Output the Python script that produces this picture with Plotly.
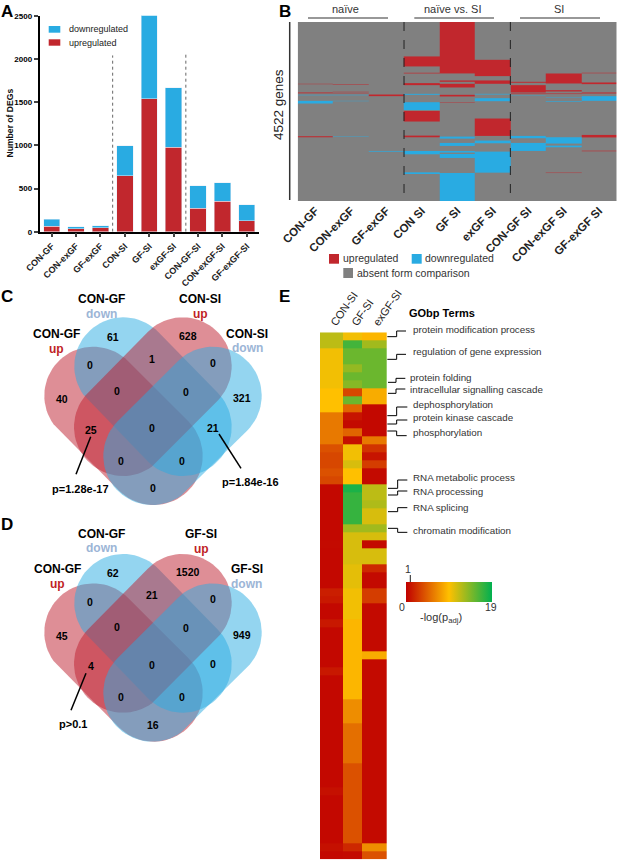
import numpy as np
import plotly.graph_objects as go

W = 617
H = 860
FONT = 'Liberation Sans'

# panel A
deg_labels = ['CON-GF', 'CON-exGF', 'GF-exGF', 'CON-SI', 'GF-SI', 'exGF-SI', 'CON-GF-SI', 'CON-exGF-SI', 'GF-exGF-SI']
deg_up = [65, 35, 45, 650, 1540, 975, 270, 350, 125]
deg_down = [80, 25, 25, 345, 970, 690, 260, 215, 185]

# panel B, blocks of genes per comparison (first gene, last gene, direction)
gene_count = 4522
b_labels = ['CON-GF', 'CON-exGF', 'GF-exGF', 'CON SI', 'GF SI', 'exGF SI', 'CON-GF SI', 'CON-exGF SI', 'GF-exGF SI']
b_con_gf = [(1561, 1571, 1), (1772, 1785, 1), (1797, 1805, 1), (1839, 1851, -1), (1991, 2059, -1), (2885, 2912, 1)]
b_con_exgf = [(1578, 1590, 1), (1763, 1775, 1), (1797, 1805, 1), (1839, 1850, -1), (1991, 2000, -1), (2894, 2904, -1)]
b_gf_exgf = [(1831, 1873, 1), (3257, 3275, -1)]
b_con_si = [(869, 1122, 1), (1282, 1299, 1), (1544, 1595, 1), (1814, 1839, -1), (2026, 2227, -1), (2244, 2514, 1),
            (2869, 2912, 1), (3257, 3341, -1), (3797, 3839, -1)]
b_gf_si = [(0, 1299, 1), (1476, 1510, 1), (1561, 1654, 1), (1839, 1881, 1), (2025, 2035, 1), (2894, 2945, -1),
           (3054, 3130, -1), (3257, 3299, -1), (3333, 3434, -1), (3814, 4522, -1)]
b_exgf_si = [(954, 1367, 1), (1476, 1561, 1), (1814, 1831, -1), (1924, 2000, -1), (2438, 2877, 1), (2995, 3063, -1),
             (3274, 3805, -1)]
b_con_gf_si = [(1510, 1535, 1), (1595, 1780, 1), (1805, 1825, 1), (1840, 1852, -1), (2877, 2936, -1), (3054, 3257, -1)]
b_con_exgf_si = [(1300, 1553, 1), (1721, 1755, 1), (1805, 1820, 1), (1898, 1908, -1), (2000, 2016, -1),
                 (2911, 3071, -1), (3122, 3164, -1), (3805, 3815, 1)]
b_gf_exgf_si = [(1282, 1295, 1), (1527, 1570, 1), (1780, 1805, 1), (1873, 1991, -1), (2852, 2905, 1), (2919, 2930, 1),
                (3250, 3265, 1)]

# panel C and D counts, same order as venn_spots
venn_c_counts = [61, 628, 40, 321, 0, 1, 0, 0, 0, 25, 0, 21, 0, 0, 0]
venn_d_counts = [62, 1520, 45, 949, 0, 21, 0, 0, 0, 4, 0, 0, 0, 0, 16]

# panel E, -log(padj) per GO term
go_columns = ['CON-SI', 'GF-SI', 'exGF-SI']
go_con_si = [12, 12, 10, 10, 10, 10, 10, 9.5, 9.5, 9.5, 6, 6, 6, 6, 4, 3.5, 3.5, 4, 3.5,
             0.4, 0.4, 0.4, 0.4, 0.4, 0.4, 0.4, 0.5, 0.4, 0.4, 0.4, 0.4, 0.4, 1.5, 1.2, 0.4, 0.4, 1.2, 0.4, 0.4, 0.4,
             0.4, 0.4, 1.2, 0.4, 0.4, 0.4, 0.4, 0.4, 0.4, 0.4, 0.4, 0.4, 0.4, 0.4, 0.4, 0.4, 0.4, 0.8, 0.4, 0.4, 0.4,
             0.4, 0.4, 0.4, 0.8, 0.4]
go_gf_si = [10, 16.5, 15, 15, 13.5, 15, 14, 3.5, 15, 5, 1, 0.5, 5, 0.8, 10, 10, 11, 9.5, 9.5,
            18, 17, 17, 17, 17, 13, 11, 11, 11, 11, 10.5, 10.5, 10.5, 10, 10, 10, 10, 9, 9, 9, 9,
            9, 9, 9, 9, 9, 9, 7, 7, 7, 5.5, 5.5, 5.5, 5.5, 5.5, 4, 4, 4, 4, 4, 4, 4, 4, 4, 4, 2, 0.5]
go_exgf_si = [9, 13, 15, 15, 15, 15, 15, 8.5, 8.5, 0.4, 0.4, 0.4, 0.4, 6, 2.5, 1, 3, 0.5, 0.5,
              12, 12, 12.5, 11, 11, 13, 11, 0.5, 11, 11, 2, 0.5, 0.5, 3, 3, 0.5, 0.5, 0.5, 0.5, 0.5, 0.5,
              8.5, 0.5, 0.5, 0.5, 0.5, 0.5, 0.5, 0.5, 0.5, 0.5, 0.5, 0.5, 0.5, 0.5, 0.5, 0.5, 0.5, 0.5, 0.5, 0.5,
              0.5, 0.5, 0.5, 0.5, 7, 4]
go_terms = ['protein modification process', 'regulation of gene expression', 'protein folding',
            'intracellular signalling cascade', 'dephosphorylation', 'protein kinase cascade', 'phosphorylation',
            'RNA metabolic process', 'RNA processing', 'RNA splicing', 'chromatin modification']

# layout stuff, in pixels of the page
RED = '#c1272d'
BLUE = '#29abe2'
GRAY = '#808080'
venn_spots = [(113.3, 336.7), (188, 335.7), (61.7, 399.3), (241.7, 398.3), (90, 365.3), (152.3, 359), (212.7, 363),
              (117.3, 391), (185.7, 391.7), (91, 429.7), (152.3, 428.3), (213.3, 427.7), (121.3, 461), (182.3, 460.7),
              (152.7, 488.3)]
venn_shift = 236.7
term_spots = [(410.7, 329.3), (410.7, 351.7), (408.3, 377), (408.3, 389.7), (410.7, 404.3), (410.7, 417.7),
              (410.7, 432.7), (410.7, 477.7), (410.7, 491.7), (410.7, 507.3), (410.7, 530)]
# elbow leaders: start y, end y, start x, bend x, end x (zoomed by 3 from x=300, y=285)
term_elbows = [(155, 138, 262, 290, 318), (223, 208, 262, 290, 318), (292, 280, 264, 288, 316),
               (325, 312, 264, 288, 316), (392, 366, 262, 290, 322), (417, 405, 262, 290, 322),
               (438, 452, 262, 290, 320), (610, 585, 264, 293, 322), (630, 618, 264, 293, 322),
               (680, 668, 264, 293, 322), (730, 742, 264, 293, 322)]
col_edges = [0, 23.3, 42, 66.7]


def xdom(left, right):
    return [left / W, right / W]


def ydom(top, bottom):
    return [1 - bottom / H, 1 - top / H]


def stadium(x0, y0, x1, y1, r, n=40):
    # outline of a rounded bar between two cap centres
    a = np.arctan2(y1 - y0, x1 - x0)
    t1 = np.linspace(a - np.pi / 2, a + np.pi / 2, n)
    t0 = t1 + np.pi
    xs = np.r_[x1 + r * np.cos(t1), x0 + r * np.cos(t0), x1 + r * np.cos(t1[0])]
    ys = np.r_[y1 + r * np.sin(t1), y0 + r * np.sin(t0), y1 + r * np.sin(t1[0])]
    return xs, ys


fig = go.Figure()
annotations = []
shapes = []


def text(x, y, s, size=10, color='black', bold=False, anchor='center', angle=0):
    annotations.append(dict(
        x=x, y=y, xref='x4', yref='y4', text=s, showarrow=False, xanchor=anchor, yanchor='middle', textangle=angle,
        font=dict(family=FONT, size=size, color=color, weight='bold' if bold else 'normal')
    ))


def line(x0, y0, x1, y1, width=1.5, color='black', dash='solid', ref='4'):
    shapes.append(dict(type='line', x0=x0, y0=y0, x1=x1, y1=y1, xref='x' + ref, yref='y' + ref,
                       line=dict(color=color, width=width, dash=dash)))


def box(x0, y0, x1, y1, color):
    shapes.append(dict(type='rect', x0=x0, y0=y0, x1=x1, y1=y1, xref='x4', yref='y4', fillcolor=color,
                       line=dict(width=0)))


# A: stacked bars
fig.add_trace(go.Bar(x=deg_labels, y=deg_up, marker_color=RED, width=0.67, showlegend=False, cliponaxis=False))
fig.add_trace(go.Bar(x=deg_labels, y=deg_down, marker_color=BLUE, width=0.67, showlegend=False, cliponaxis=False))
line(2.5, 0, 2.5, 2040, width=1, color='#666666', dash='dot', ref='')
line(5.5, 0, 5.5, 2050, width=1, color='#666666', dash='dot', ref='')
box(48.7, 26, 60.3, 32.7, BLUE)
box(48.7, 39.3, 60.3, 45.7, RED)
text(67, 29.3, 'downregulated', size=9, color='#222222', anchor='left')
text(67, 42.5, 'upregulated', size=9, color='#222222', anchor='left')
text(9.5, 123, 'Number of DEGs', size=8.6, angle=-90, color='#111111', bold=True)

# B: gene blocks, one column per comparison, averaged over one pixel of height
gene_matrix = np.zeros((gene_count, len(b_labels)))
all_blocks = [b_con_gf, b_con_exgf, b_gf_exgf, b_con_si, b_gf_si, b_exgf_si, b_con_gf_si, b_con_exgf_si, b_gf_exgf_si]
for col, blocks in enumerate(all_blocks):
    for first, last, direction in blocks:
        gene_matrix[first:last, col] = direction

bin_edges = np.linspace(0, gene_count, 180).astype(int)
binned = np.array([gene_matrix[a:b].mean(axis=0) for a, b in zip(bin_edges[:-1], bin_edges[1:])])

fig.add_trace(go.Heatmap(
    x=b_labels, y=(bin_edges[:-1] + bin_edges[1:]) / 2, z=binned, xaxis='x2', yaxis='y2', zmin=-1, zmax=1,
    colorscale=[[0, BLUE], [0.5, GRAY], [1, RED]], showscale=False, hoverinfo='skip'
))
line(2.5, 0, 2.5, gene_count, width=1, color='#222222', dash='dash', ref='2')
line(5.5, 0, 5.5, gene_count, width=1, color='#222222', dash='dash', ref='2')
line(308, 18, 388, 18, width=1.2, color='#333333')
line(414.3, 18, 494, 18, width=1.2, color='#333333')
line(520, 18, 600, 18, width=1.2, color='#333333')
line(289.7, 22, 289.7, 200, width=1.5, color='#333333')
text(345, 9, 'naïve', size=11, color='#333333')
text(452, 9, 'naïve vs. SI', size=11, color='#333333')
text(559, 9, 'SI', size=11, color='#333333')
text(278, 105, '4522 genes', size=13.5, angle=-90, color='#222222')
box(329, 254, 339, 263.7, RED)
box(411.7, 254, 421.7, 263.7, BLUE)
box(343.3, 268, 353, 278, GRAY)
text(341, 258, 'upregulated', size=10.5, color='#333333', anchor='left')
text(423, 258, 'downregulated', size=10.5, color='#333333', anchor='left')
text(355, 272.5, 'absent form comparison', size=10.5, color='#333333', anchor='left')


# C and D: four overlapping rounded bars
def venn(dy):
    bars = [(93.3, 395.7, 153.7, 456, 'rgba(190,30,45,0.5)'), (123.3, 366.3, 182.7, 427, 'rgba(41,171,226,0.5)'),
            (123, 427, 182.7, 366.3, 'rgba(190,30,45,0.5)'), (152.3, 456, 212.7, 395.7, 'rgba(41,171,226,0.5)')]
    for x0, y0, x1, y1, col in bars:
        xs, ys = stadium(x0, y0 + dy, x1, y1 + dy, 49)
        fig.add_trace(go.Scatter(x=xs, y=ys, xaxis='x4', yaxis='y4', mode='lines', fill='toself', fillcolor=col,
                                 line=dict(width=0), showlegend=False, hoverinfo='skip'))


venn(0)
venn(venn_shift)
for (x, y), n in zip(venn_spots, venn_c_counts):
    text(x, y, str(n), size=10.5, bold=True)
for (x, y), n in zip(venn_spots, venn_d_counts):
    text(x, y + venn_shift - 0.5, str(n), size=10.5, bold=True)

text(101, 299.3, 'CON-GF', size=12, bold=True)
text(101, 314, 'down', size=12, bold=True, color='#9cb5d6')
text(200, 299.3, 'CON-SI', size=12, bold=True)
text(200, 314, 'up', size=12, bold=True, color='#c01f26')
text(56.7, 334.3, 'CON-GF', size=12, bold=True)
text(56.7, 349.3, 'up', size=12, bold=True, color='#c01f26')
text(247.3, 333.7, 'CON-SI', size=12, bold=True)
text(247.3, 348.3, 'down', size=12, bold=True, color='#9cb5d6')
text(80, 489.3, 'p=1.28e-17', size=11, bold=True)
text(250, 481.7, 'p=1.84e-16', size=11, bold=True)
line(90.7, 436.7, 76, 474.3)
line(219, 434, 241, 468.3)

text(101.3, 534, 'CON-GF', size=12, bold=True)
text(101.3, 548.3, 'down', size=12, bold=True, color='#9cb5d6')
text(201, 534, 'GF-SI', size=12, bold=True)
text(201, 549, 'up', size=12, bold=True, color='#c01f26')
text(57.3, 569, 'CON-GF', size=12, bold=True)
text(57.3, 584.3, 'up', size=12, bold=True, color='#c01f26')
text(246.7, 569, 'GF-SI', size=12, bold=True)
text(246.7, 584, 'down', size=12, bold=True, color='#9cb5d6')
text(73.3, 724, 'p&gt;0.1', size=11, bold=True)
line(86, 673.3, 71, 710.3)

# E: GO term heatmap
go_matrix = np.array([go_con_si, go_gf_si, go_exgf_si]).T
fig.add_trace(go.Heatmap(
    x=col_edges, y=np.arange(len(go_con_si) + 1), z=go_matrix, xaxis='x3', yaxis='y3', zmin=0, zmax=19,
    colorscale=[[0, '#c00000'], [0.5, '#ffc000'], [1, '#00b050']], hoverinfo='skip',
    colorbar=dict(orientation='h', x=405.7 / W, xanchor='left', y=1 - 602 / H, yanchor='bottom', len=86.3,
                  lenmode='pixels', thickness=19.7, thicknessmode='pixels', showticklabels=False, ticks='',
                  outlinewidth=0, xpad=0, ypad=0)
))
text(407.3, 313.3, 'GObp Terms', size=11, bold=True, anchor='left')
for (x, y), term in zip(term_spots, go_terms):
    text(x, y, term, size=9.8, color='#333333', anchor='left')
for y0, y1, x0, xb, x1 in term_elbows:
    line(300 + x0 / 3, 285 + y0 / 3, 300 + xb / 3, 285 + y0 / 3, width=1)
    line(300 + xb / 3, 285 + y0 / 3, 300 + xb / 3, 285 + y1 / 3, width=1)
    line(300 + xb / 3, 285 + y1 / 3, 300 + x1 / 3, 285 + y1 / 3, width=1)
text(407.7, 569.3, '1', size=10.5, color='#333333')
text(402.3, 606.7, '0', size=10.5, color='#333333')
text(491, 606.7, '19', size=10.5, color='#333333')
text(441, 618, '-log(p<sub>adj</sub>)', size=11, color='#333333')
line(410.3, 575, 410.3, 606, width=1, dash='dash', color='#222222')

# panel letters
for letter, x, y in [('A', 7, 11), ('B', 285, 11), ('C', 7, 296), ('D', 7, 524), ('E', 284, 296)]:
    text(x, y, letter, size=17, bold=True)

fig.update_layout(
    width=W,
    height=H,
    margin=dict(l=0, r=0, t=0, b=0, autoexpand=False),
    barmode='stack',
    bargap=0.33,
    showlegend=False,
    paper_bgcolor='white',
    plot_bgcolor='rgba(0,0,0,0)',
    font=dict(family=FONT, color='#222222'),
    annotations=annotations,
    shapes=shapes,
    xaxis=dict(domain=xdom(39.5, 259), anchor='y', range=[-0.5, 8.5], type='category', tickangle=-45,
               showline=True, linecolor='black', linewidth=1.5, ticks='outside', ticklen=4, tickwidth=1.5,
               tickfont=dict(size=9, color='#222222', weight='bold'), showgrid=False),
    yaxis=dict(domain=ydom(15.7, 231.7), anchor='x', range=[0, 2500], tickvals=[0, 500, 1000, 1500, 2000, 2500],
               showline=True, linecolor='black', linewidth=1.5, ticks='outside', ticklen=4, tickwidth=1.5,
               tickfont=dict(size=8, color='black', weight='bold'), showgrid=False, zeroline=False),
    xaxis2=dict(domain=xdom(297.7, 616.7), anchor='y2', range=[-0.5, 8.5], type='category', tickangle=-45,
                showline=False, showgrid=False, ticks='', tickfont=dict(size=11.5, color='#222222', weight='bold')),
    yaxis2=dict(domain=ydom(22, 201), anchor='x2', range=[gene_count, 0], visible=False),
    xaxis3=dict(domain=xdom(320, 386.7), anchor='y3', range=[0, 66.7], side='top',
                tickvals=[(col_edges[i] + col_edges[i + 1]) / 2 for i in range(3)], ticktext=go_columns,
                tickangle=-55, showline=False, showgrid=False, ticks='', zeroline=False,
                tickfont=dict(size=11, color='#222222')),
    yaxis3=dict(domain=ydom(332.3, 859.3), anchor='x3', range=[len(go_con_si), 0], visible=False),
    xaxis4=dict(domain=[0, 1], anchor='y4', range=[0, W], visible=False),
    yaxis4=dict(domain=[0, 1], anchor='x4', range=[H, 0], visible=False),
)

fig.write_html("out.html", config={'displayModeBar': False}, post_script="document.body.style.margin='0';")
